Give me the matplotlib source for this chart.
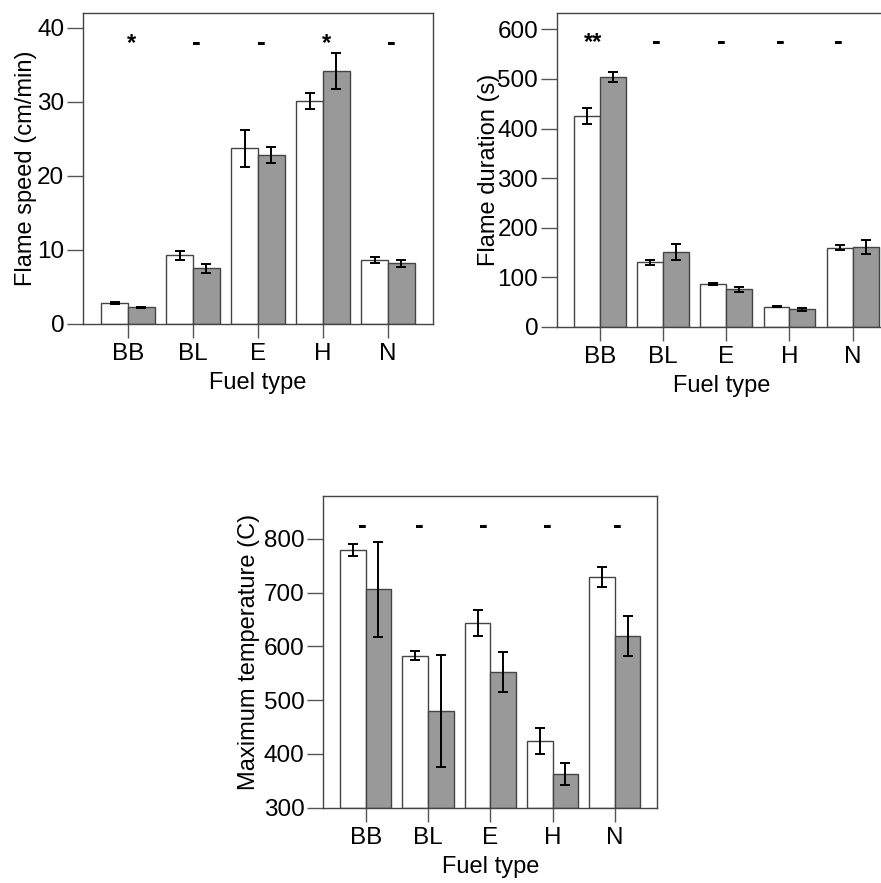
import numpy as np
import matplotlib
matplotlib.use("Agg")
import matplotlib.pyplot as plt

plt.rcParams['font.family'] = ['Liberation Sans', 'DejaVu Sans']

# fuel types shared by all panels
fuels = ["BB", "BL", "E", "H", "N"]

# flame speed (cm/min): white = first treatment, grey = second treatment
speed_white = [2.8, 9.25, 23.7, 30.1, 8.6]
speed_white_err = [0.1, 0.6, 2.55, 1.05, 0.4]
speed_grey = [2.25, 7.5, 22.85, 34.2, 8.2]
speed_grey_err = [0.1, 0.55, 1.1, 2.45, 0.5]
speed_marks = ["*", "-", "-", "*", "-"]
speed_mark_dx = [0.05, 0.06, 0.05, 0.05, 0.05]

# flame duration (s)
dur_white = [426, 130, 86.5, 41, 160]
dur_white_err = [16, 5.5, 2, 1, 4.5]
dur_grey = [504, 152, 76, 35.5, 161]
dur_grey_err = [10, 16, 5, 2.5, 14]
dur_marks = ["**", "-", "-", "-", "-"]
dur_mark_dx = [-0.1, -0.1, -0.08, -0.14, -0.22]

# maximum temperature (C)
temp_white = [779, 583, 644, 424, 729]
temp_white_err = [11, 9, 24, 25, 19]
temp_grey = [706, 480, 552, 363, 620]
temp_grey_err = [89, 105, 37, 20, 37]
temp_marks = ["-", "-", "-", "-", "-"]
temp_mark_dx = [-0.05, -0.14, -0.11, -0.09, 0.04]

GREY = "#999999"
EDGE = "#444444"
W = 0.41


def panel(ax, white, white_err, grey, grey_err, marks, mark_dx, mark_y,
          ylim, yticks, ylabel, xlim, ypad=1):
    x = np.arange(len(fuels))
    base = ylim[0]
    ax.bar(x - W / 2, np.array(white) - base, W, bottom=base, color="white",
           edgecolor=EDGE, linewidth=1.0, zorder=2)
    ax.bar(x + W / 2, np.array(grey) - base, W, bottom=base, color=GREY,
           edgecolor=EDGE, linewidth=1.0, zorder=2)
    ax.errorbar(x - W / 2, white, yerr=white_err, fmt="none", ecolor="black",
                elinewidth=1.4, capsize=3.3, capthick=1.4, zorder=3)
    ax.errorbar(x + W / 2, grey, yerr=grey_err, fmt="none", ecolor="black",
                elinewidth=1.4, capsize=3.3, capthick=1.4, zorder=3)
    # significance marks above each pair
    for i, m in enumerate(marks):
        ax.text(x[i] + mark_dx[i], mark_y, m, ha="center", va="baseline",
                fontsize=19 if m == "-" else 17, fontweight="bold")
    ax.set_xlim(*xlim)
    ax.set_ylim(*ylim)
    ax.set_yticks(yticks)
    ax.set_xticks(x)
    ax.set_xticklabels(fuels)
    ax.tick_params(axis="y", length=11.5, width=1, color="#555555", pad=2,
                   labelsize=17.5)
    ax.tick_params(axis="x", length=10, width=1, color="#555555", pad=4,
                   labelsize=17.5)
    for s in ax.spines.values():
        s.set_color("#444444")
        s.set_linewidth(1.0)
    ax.set_ylabel(ylabel, fontsize=17, labelpad=ypad)
    ax.set_xlabel("Fuel type", fontsize=17, labelpad=5)


fig = plt.figure(figsize=(8.81, 8.83), dpi=100)

ax1 = fig.add_axes([0.0942, 0.6331, 0.3973, 0.3522])
panel(ax1, speed_white, speed_white_err, speed_grey, speed_grey_err,
      speed_marks, speed_mark_dx, 37.0, (0, 42), [0, 10, 20, 30, 40],
      "Flame speed (cm/min)", (-0.69, 4.69), ypad=0)

ax2 = fig.add_axes([0.6322, 0.6297, 0.373, 0.3556])
panel(ax2, dur_white, dur_white_err, dur_grey, dur_grey_err,
      dur_marks, dur_mark_dx, 560, (0, 633), [0, 100, 200, 300, 400, 500, 600],
      "Flame duration (s)", (-0.677, 4.52), ypad=-2)

ax3 = fig.add_axes([0.367, 0.0853, 0.3791, 0.353])
panel(ax3, temp_white, temp_white_err, temp_grey, temp_grey_err,
      temp_marks, temp_mark_dx, 811, (300, 880), [300, 400, 500, 600, 700, 800],
      "Maximum temperature (C)", (-0.68, 4.68), ypad=3)

fig.savefig("out.png", dpi=100)
